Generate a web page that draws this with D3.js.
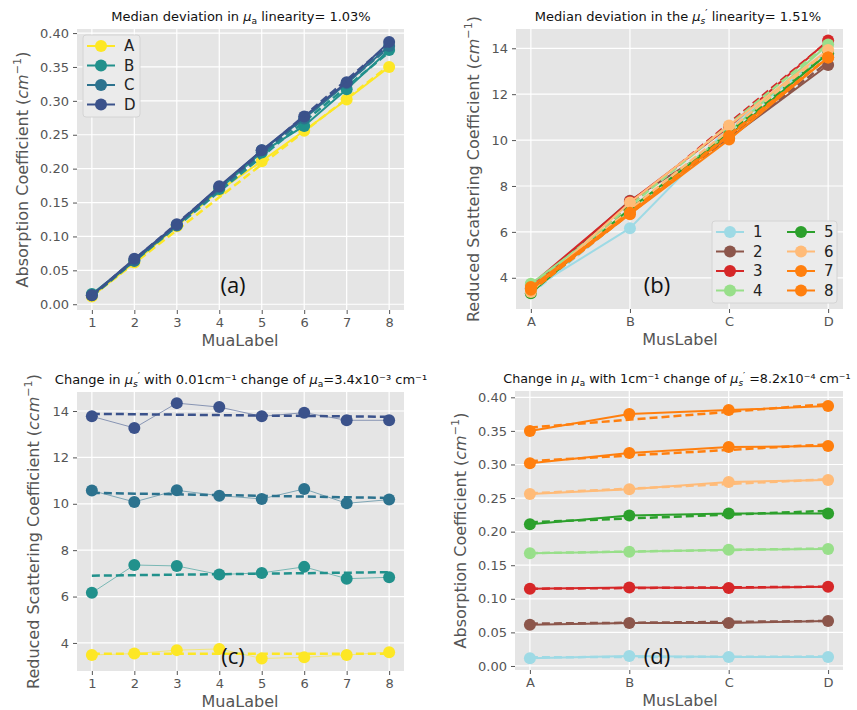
<!DOCTYPE html>
<html>
<head>
<meta charset="utf-8">
<script src="https://cdn.jsdelivr.net/npm/d3@7"></script>
<style>
  body { margin: 0; background: #fff; }
  text { font-family: "DejaVu Sans", sans-serif; }
</style>
</head>
<body>
<div id="wrapper"></div>
<script>
// 1. Data
const muaLabels = [1, 2, 3, 4, 5, 6, 7, 8]
const musLabels = ['A', 'B', 'C', 'D']

// absorption coefficient, rows = MusLabel A..D, columns = MuaLabel 1..8
const muaA = [0.0115, 0.0615, 0.115, 0.168, 0.211, 0.256, 0.302, 0.350]
const muaB = [0.015, 0.064, 0.117, 0.170, 0.224, 0.263, 0.317, 0.375]
const muaC = [0.0134, 0.064, 0.116, 0.173, 0.227, 0.274, 0.326, 0.381]
const muaD = [0.0134, 0.067, 0.118, 0.174, 0.227, 0.277, 0.3275, 0.387]

// reduced scattering coefficient, rows = MusLabel A..D, columns = MuaLabel 1..8
const musA = [3.48, 3.54, 3.69, 3.74, 3.33, 3.38, 3.48, 3.60]
const musB = [6.16, 7.36, 7.32, 6.95, 7.02, 7.28, 6.77, 6.83]
const musC = [10.57, 10.08, 10.58, 10.35, 10.21, 10.64, 10.02, 10.18]
const musD = [13.77, 13.27, 14.34, 14.17, 13.77, 13.93, 13.60, 13.60]

// dashed fit lines, [start, end]
const fitMuaByMus = [[0.012, 0.352], [0.012, 0.372], [0.012, 0.379], [0.013, 0.384]]
const fitMusByMua = [[3.3, 13.9], [3.5, 13.4], [3.6, 14.3], [3.6, 14.2], [3.4, 13.8], [3.5, 13.9], [3.4, 13.6], [3.5, 13.6]]
const fitMusFlat = [[3.53, 3.53], [6.90, 7.05], [10.47, 10.25], [13.88, 13.75]]
const fitMuaFlat = [[0.013, 0.014], [0.063, 0.067], [0.115, 0.118], [0.168, 0.175], [0.214, 0.231], [0.257, 0.278], [0.305, 0.330], [0.355, 0.390]]

const musColors = ['#fde725', '#21918c', '#2c728e', '#3b528b']
const muaColors = ['#9edae5', '#8c564b', '#d62728', '#98df8a', '#2ca02c', '#ffbb78', '#ff7f0e', '#ff7f0e']

const muaTicks = [0, 0.05, 0.10, 0.15, 0.20, 0.25, 0.30, 0.35, 0.40]
const musTicks = [4, 6, 8, 10, 12, 14]

const muaRows = [muaA, muaB, muaC, muaD]
const musRows = [musA, musB, musC, musD]
const transpose = rows => rows[0].map((_, j) => rows.map(r => r[j]))

// 2. Canvas
const wrapper = d3.select('#wrapper')
  .append('svg')
    .attr('width', 857)
    .attr('height', 710)

// rich text pieces: shift = baseline offset in px (positive = down)
const mu = (sub, prime) => prime
  ? [{ t: 'μ', it: true }, { t: sub, shift: 3, size: '70%', it: true }, { t: '′', shift: -4, size: '75%' }]
  : [{ t: 'μ', it: true }, { t: sub, shift: 3, size: '70%' }]
const cmInv = (c) => [{ t: c, it: true }, { t: '−1', shift: -7, size: '70%' }]

function rich(sel, segs) {
  let cur = 0
  segs.forEach(s => {
    const shift = s.shift || 0
    const ts = sel.append('tspan').text(s.t)
    if (shift !== cur) ts.attr('dy', shift - cur)
    cur = shift
    if (s.it) ts.style('font-style', 'italic')
    if (s.size) ts.style('font-size', s.size)
  })
}

function drawPanel(cfg) {
  const g = wrapper.append('g')
  const xScale = d3.scaleLinear().domain(cfg.xDomain).range([cfg.left, cfg.right])
  const yScale = d3.scaleLinear().domain(cfg.yDomain).range([cfg.bottom, cfg.top])

  g.append('rect')
      .attr('x', cfg.left).attr('y', cfg.top)
      .attr('width', cfg.right - cfg.left).attr('height', cfg.bottom - cfg.top)
      .attr('fill', '#e5e5e5')

  // grid
  g.append('g').selectAll('line').data(cfg.yTicks).join('line')
      .attr('x1', cfg.left).attr('x2', cfg.right)
      .attr('y1', d => yScale(d)).attr('y2', d => yScale(d))
      .attr('stroke', '#fff').attr('stroke-width', 1.2)
  g.append('g').selectAll('line').data(cfg.xTicks).join('line')
      .attr('y1', cfg.top).attr('y2', cfg.bottom)
      .attr('x1', d => xScale(d)).attr('x2', d => xScale(d))
      .attr('stroke', '#fff').attr('stroke-width', 1.2)

  // axes
  const yAxis = d3.axisLeft(yScale).tickValues(cfg.yTicks).tickFormat(cfg.yFormat).tickSize(4).tickPadding(4)
  const xAxis = d3.axisBottom(xScale).tickValues(cfg.xTicks).tickFormat((d, i) => cfg.xLabels[i]).tickSize(4).tickPadding(4)
  const styleAxis = a => {
    a.select('.domain').remove()
    a.selectAll('line').attr('stroke', '#555')
    a.selectAll('text').attr('fill', '#555').style('font-size', '13px')
      .style('font-family', '"DejaVu Sans", sans-serif')
  }
  g.append('g').attr('transform', `translate(${cfg.left},0)`).call(yAxis).call(styleAxis)
  g.append('g').attr('transform', `translate(0,${cfg.bottom})`).call(xAxis).call(styleAxis)

  // series
  const line = d3.line().x((d, i) => xScale(cfg.xTicks[i])).y(d => yScale(d))
  const fitLine = d3.line().x((d, i) => xScale(i === 0 ? cfg.xTicks[0] : cfg.xTicks[cfg.xTicks.length - 1])).y(d => yScale(d))
  cfg.series.forEach((vals, k) => {
    const color = cfg.colors[k]
    g.append('path').datum(vals)
        .attr('d', line).attr('fill', 'none')
        .attr('stroke', color).attr('stroke-width', cfg.solidWidth)
        .attr('stroke-opacity', cfg.solidOpacity)
    g.append('g').selectAll('circle').data(vals).join('circle')
        .attr('cx', (d, i) => xScale(cfg.xTicks[i])).attr('cy', d => yScale(d))
        .attr('r', 6).attr('fill', color)
    g.append('path').datum(cfg.fits[k])
        .attr('d', fitLine).attr('fill', 'none')
        .attr('stroke', color).attr('stroke-width', 2.5)
        .attr('stroke-dasharray', '8,4')
  })

  // title
  const title = g.append('text')
      .attr('x', cfg.titleX).attr('y', cfg.top - 8)
      .attr('text-anchor', 'middle').style('font-size', cfg.titleSize || '13px').attr('fill', '#111')
  rich(title, cfg.title)

  // axis labels
  g.append('text')
      .attr('x', cfg.xLabelX).attr('y', cfg.bottom + 36)
      .attr('text-anchor', 'middle').style('font-size', '16px').attr('fill', '#555')
      .text(cfg.xName)
  const yl = g.append('text')
      .attr('transform', `translate(${cfg.yLabelX + 6},${(cfg.top + cfg.bottom) / 2}) rotate(-90)`)
      .attr('text-anchor', 'middle')
      .style('font-size', '16px').attr('fill', '#555')
  rich(yl, cfg.yName)

  // panel tag
  g.append('text')
      .attr('x', cfg.tagX).attr('y', cfg.tagY)
      .attr('text-anchor', 'middle')
      .style('font-family', '"Open Sans", sans-serif').style('font-size', '22px').attr('fill', '#111')
      .text(cfg.tag)

  // legend
  if (cfg.legend) {
    const L = cfg.legend
    g.append('rect')
        .attr('x', L.x).attr('y', L.y).attr('width', L.w).attr('height', L.h)
        .attr('rx', 3).attr('fill', '#ebebeb').attr('stroke', '#d4d4d4')
    L.names.forEach((name, i) => {
      const col = Math.floor(i / L.perCol)
      const row = i % L.perCol
      const lx = L.x + 4 + col * L.colW
      const ly = L.y + 11 + row * L.rowH
      const color = cfg.colors[i]
      g.append('line').attr('x1', lx).attr('x2', lx + 28).attr('y1', ly).attr('y2', ly)
          .attr('stroke', color).attr('stroke-width', 2)
      g.append('circle').attr('cx', lx + 14).attr('cy', ly).attr('r', 6).attr('fill', color)
      g.append('text').attr('x', lx + 37).attr('y', ly + 5)
          .style('font-size', '15px').attr('fill', '#222').text(name)
    })
  }
}

const fmt2 = d3.format('.2f')
const muaXTicks = muaLabels
const musXTicks = [0, 1, 2, 3]

// (a)
drawPanel({
  left: 77, right: 404, top: 29, bottom: 310,
  xDomain: [0.65, 8.35], yDomain: [-0.0085, 0.406],
  xTicks: muaXTicks, xLabels: muaLabels, yTicks: muaTicks, yFormat: fmt2,
  series: muaRows, colors: musColors, fits: fitMuaByMus,
  solidWidth: 2, solidOpacity: 1,
  titleX: 241, title: [{ t: 'Median deviation in ' }, ...mu('a'), { t: ' linearity= 1.03%' }],
  xLabelX: 240, xName: 'MuaLabel',
  yLabelX: 22, yName: [{ t: 'Absorption Coefficient (' }, ...cmInv('cm'), { t: ')' }],
  tag: '(a)', tagX: 233, tagY: 293,
  legend: { x: 83, y: 35, w: 57, h: 82, names: musLabels, perCol: 4, colW: 70, rowH: 19.5 }
})

// (b)
drawPanel({
  left: 516, right: 843, top: 29, bottom: 309,
  xDomain: [-0.15, 3.15], yDomain: [2.64, 14.84],
  xTicks: musXTicks, xLabels: musLabels, yTicks: musTicks, yFormat: d3.format('d'),
  series: transpose(musRows), colors: muaColors, fits: fitMusByMua,
  solidWidth: 2, solidOpacity: 1,
  titleX: 678, title: [{ t: 'Median deviation in the  ' }, ...mu('s', true), { t: ' linearity= 1.51%' }],
  xLabelX: 680, xName: 'MusLabel',
  yLabelX: 473, yName: [{ t: 'Reduced Scattering Coefficient (' }, ...cmInv('cm'), { t: ')' }],
  tag: '(b)', tagX: 657, tagY: 293,
  legend: { x: 712, y: 221, w: 125, h: 82, names: muaLabels.map(String), perCol: 4, colW: 71, rowH: 19.5 }
})

// (c)
drawPanel({
  left: 77, right: 404, top: 392, bottom: 671,
  xDomain: [0.65, 8.35], yDomain: [2.79, 14.82],
  xTicks: muaXTicks, xLabels: muaLabels, yTicks: musTicks, yFormat: d3.format('d'),
  series: musRows, colors: musColors, fits: fitMusFlat,
  solidWidth: 1, solidOpacity: 0.55,
  titleX: 241, title: [{ t: 'Change in ' }, ...mu('s', true), { t: ' with 0.01cm⁻¹ change of  ' }, ...mu('a'), { t: '=3.4x10⁻³ cm⁻¹' }],
  xLabelX: 240, xName: 'MuaLabel',
  yLabelX: 33, yName: [{ t: 'Reduced Scattering Coefficient (' }, ...cmInv('ccm'), { t: ')' }],
  tag: '(c)', tagX: 233, tagY: 664
})

// (d)
drawPanel({
  left: 515, right: 843, top: 391, bottom: 670,
  xDomain: [-0.15, 3.15], yDomain: [-0.006, 0.4094],
  xTicks: musXTicks, xLabels: musLabels, yTicks: muaTicks, yFormat: fmt2,
  series: transpose(muaRows), colors: muaColors, fits: fitMuaFlat,
  solidWidth: 2, solidOpacity: 1,
  titleX: 677, titleSize: '12.7px',
  title: [{ t: 'Change in ' }, ...mu('a'), { t: ' with 1cm⁻¹ change of ' }, ...mu('s', true), { t: ' =8.2x10⁻⁴ cm⁻¹' }],
  xLabelX: 680, xName: 'MusLabel',
  yLabelX: 460, yName: [{ t: 'Absorption Coefficient (' }, ...cmInv('cm'), { t: ')' }],
  tag: '(d)', tagX: 657, tagY: 664
})
</script>
</body>
</html>
